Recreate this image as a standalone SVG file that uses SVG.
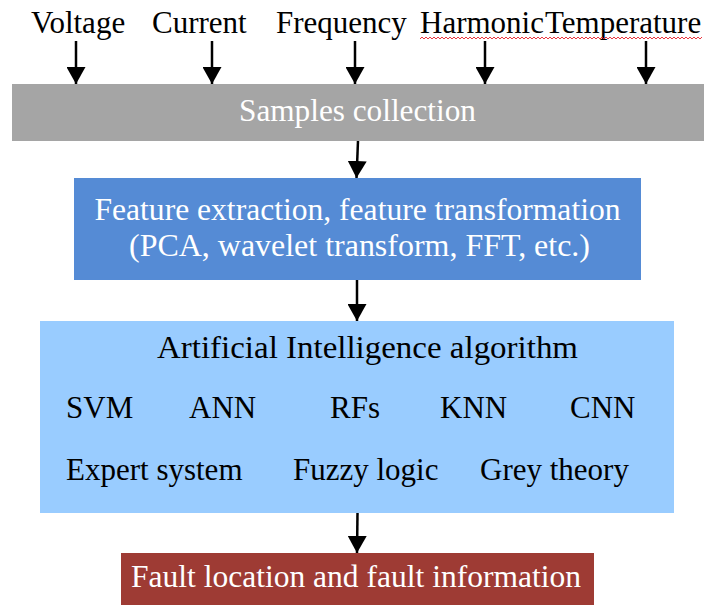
<svg xmlns="http://www.w3.org/2000/svg" width="704" height="605" viewBox="0 0 704 605">
  <style>
    text { font-family: "Liberation Serif", "Times New Roman", serif; font-size: 31px; }
    .dark { fill: #000000; }
    .light { fill: #FFFFFF; }
    .link { stroke: #000000; stroke-width: 2.5; fill: none; marker-end: url(#head); }
  </style>
  <defs>
    <marker id="head" viewBox="0 0 17 19" refX="17" refY="9.5" markerWidth="17" markerHeight="19" markerUnits="userSpaceOnUse" orient="auto">
      <path d="M0,0 L17,9.5 L0,19 z" fill="#000000"/>
    </marker>
    <pattern id="wave" x="0" y="0" width="4" height="4" patternUnits="userSpaceOnUse">
      <path d="M0,3 L2,1 L4,3" stroke="#E8202A" stroke-width="0.9" fill="none"/>
    </pattern>
  </defs>

  <rect width="704" height="605" fill="#FFFFFF"/>

  <!-- measured quantities feeding the collection stage -->
  <g id="inputs">
    <text class="dark" x="31" y="33">Voltage</text>
    <text class="dark" x="152" y="33">Current</text>
    <text class="dark" x="276" y="33">Frequency</text>
    <text class="dark" x="420" y="33">Harmonic</text>
    <text class="dark" x="545" y="33">Temperature</text>
    <rect x="420" y="35.5" width="282" height="4" fill="url(#wave)"/>
  </g>

  <g id="samples">
    <rect x="12" y="84" width="692" height="57" fill="#A5A5A5"/>
    <text class="light" x="239" y="121" font-size="32" textLength="237" lengthAdjust="spacingAndGlyphs">Samples collection</text>
  </g>

  <g id="features">
    <rect x="74" y="178" width="567" height="102" fill="#558BD5"/>
    <text class="light" x="94.5" y="220" font-size="31.5" textLength="526" lengthAdjust="spacingAndGlyphs">Feature extraction, feature transformation</text>
    <text class="light" x="129" y="256" font-size="31.5" textLength="461" lengthAdjust="spacingAndGlyphs">(PCA, wavelet transform, FFT, etc.)</text>
  </g>

  <g id="algorithms">
    <rect x="40" y="321" width="634" height="192" fill="#99CCFF"/>
    <text class="dark" x="157" y="358" font-size="33.5" textLength="421" lengthAdjust="spacingAndGlyphs">Artificial Intelligence algorithm</text>
    <text class="dark" x="66" y="418">SVM</text>
    <text class="dark" x="189" y="418">ANN</text>
    <text class="dark" x="330" y="418">RFs</text>
    <text class="dark" x="440" y="418">KNN</text>
    <text class="dark" x="570" y="418">CNN</text>
    <text class="dark" x="66" y="480">Expert system</text>
    <text class="dark" x="293" y="480">Fuzzy logic</text>
    <text class="dark" x="480" y="480">Grey theory</text>
  </g>

  <g id="result">
    <rect x="121" y="553" width="473" height="52" fill="#9E3B34"/>
    <text class="light" x="131" y="587" font-size="31.5" textLength="450" lengthAdjust="spacingAndGlyphs">Fault location and fault information</text>
  </g>

  <g id="connectors">
    <line class="link" x1="76" y1="41" x2="76" y2="84"/>
    <line class="link" x1="212" y1="41" x2="212" y2="84"/>
    <line class="link" x1="355" y1="41" x2="355" y2="84"/>
    <line class="link" x1="485" y1="41" x2="485" y2="84"/>
    <line class="link" x1="646" y1="41" x2="646" y2="84"/>
    <line class="link" x1="358" y1="141" x2="356.5" y2="178"/>
    <line class="link" x1="357" y1="280" x2="357" y2="321"/>
    <line class="link" x1="357.5" y1="513" x2="357" y2="553"/>
  </g>
</svg>
